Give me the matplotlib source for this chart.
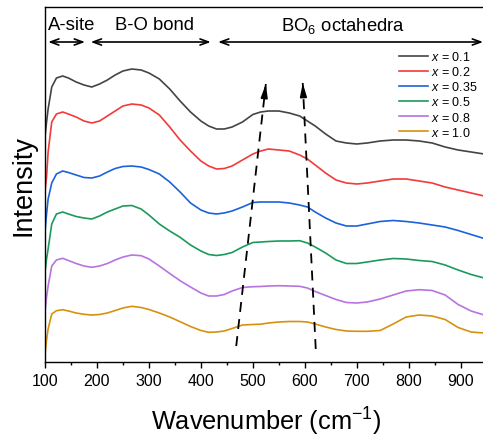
import matplotlib
matplotlib.use("Agg")
import matplotlib.pyplot as plt

plt.rcParams['font.family'] = ['Liberation Sans', 'DejaVu Sans']
plt.rcParams['mathtext.fontset'] = 'custom'
plt.rcParams['mathtext.rm'] = 'Liberation Sans'
plt.rcParams['mathtext.it'] = 'Liberation Sans:italic'

wavenumber = [100, 103, 106, 113, 122, 134, 145, 160, 175, 190, 205, 220, 235, 250,
              267, 285, 300, 320, 340, 360, 380, 400, 415, 430, 445, 460, 480, 500,
              515, 530, 550, 570, 590, 605, 620, 640, 660, 680, 700, 720, 745, 770,
              795, 820, 845, 870, 895, 920, 945]

x01 = [225, 240, 253, 275, 284, 286, 284, 280, 277, 275, 278, 282, 287, 291,
       293, 292, 289, 283, 273, 261, 250, 241, 236, 233, 233, 235, 240, 247.5,
       250, 251, 251, 249, 246, 241, 236, 228, 221, 219, 218, 219, 221, 222,
       222, 221, 219, 215, 212, 210, 208]
x02 = [171, 185, 210, 240, 248, 250, 248, 245, 241, 239, 241, 246, 251, 256,
       258, 257, 254, 247, 235, 222, 211, 201, 196, 193, 193.5, 196, 202, 208,
       211, 213, 212, 211, 207, 203, 197, 189, 182, 179, 178, 179, 181, 183,
       183, 181, 179, 175, 172, 169, 166]
x035 = [130, 148, 163, 179, 188, 191, 189.5, 187, 184.5, 184, 186, 190, 193.5, 195.5,
        196, 195, 192.5, 188, 180, 170, 159, 152, 149, 148, 149, 151, 155, 159.5,
        160, 160, 160, 159, 157, 155, 150, 144, 139, 136, 136, 138, 140.5, 141.5,
        140.5, 139, 137, 135, 131.5, 127.5, 123.5]
x05 = [90, 103, 113, 138, 148, 150, 148, 145.5, 144, 143, 146, 150, 153, 156,
       156.5, 153, 147, 138, 131, 124.7, 117, 111, 107.5, 106.5, 107.5, 109.5, 115, 119.5,
       120, 120.5, 121, 121, 121.3, 119, 115, 109, 102, 98.5, 98.5, 100, 102, 103.5,
       103, 101.5, 100.5, 97, 92, 87.5, 84]
x08 = [50, 65, 76, 96, 102, 103.7, 101.5, 98.5, 96, 94.7, 96, 98.5, 102, 105,
       107, 106.3, 103, 96, 88.5, 81.3, 75, 69, 66, 66, 67.5, 71, 74.5, 75.3,
       75.5, 76, 76.3, 76, 75.7, 74, 70.5, 66.5, 62.5, 59.5, 59, 60, 63, 67,
       71, 72.3, 71.5, 67, 57.5, 51, 47]
x10 = [8, 22, 33, 48, 51.3, 52.3, 51, 49, 47.7, 47, 47.5, 49, 51.5, 54,
       55.7, 54.5, 52.5, 49, 45, 40.3, 35.5, 31.5, 29.7, 30, 31, 33.5, 37, 37.5,
       37.8, 39, 40, 40.5, 40.5, 40, 38, 35, 32.5, 31, 30.7, 30.7, 31.5, 38,
       45, 47, 46, 42.5, 34.5, 30, 29]

series = [x01, x02, x035, x05, x08, x10]
labels = ['0.1', '0.2', '0.35', '0.5', '0.8', '1.0']
colors = ['#444444', '#f23a3a', '#1c62dc', '#1b9a5c', '#b873e0', '#d6920e']

# region annotations (wavenumber ranges)
regions = [(106, 177), (188, 419), (433, 943)]
region_labels = ['A-site', 'B-O bond', 'BO$_6$ octahedra']
region_label_x = [151, 310, 674]

# peak-shift guide arrows: (tail, tip) in data units
shift_arrows = [((468, 16), (525, 278)), ((621, 13), (596, 279))]

fig = plt.figure(figsize=(4.83, 4.39), dpi=100)
ax = fig.add_axes([45/483, 76/439, 441.7/483, 355/439])

for ys, lab, c in zip(series, labels, colors):
    ax.plot(wavenumber, ys, color=c, lw=1.2, label=r'$\it{x}$ = ' + lab)

ax.set_xlim(100, 950)
ax.set_ylim(0, 355)
ax.set_xticks(range(100, 1000, 100))
ax.set_xticks(range(150, 950, 100), minor=True)
ax.set_yticks([])
ax.tick_params(axis='x', which='major', direction='out', length=4, width=1, labelsize=11.5, pad=4)
ax.tick_params(axis='x', which='minor', direction='out', length=2.5, width=1)
for s in ax.spines.values():
    s.set_linewidth(1.0)
ax.set_xlabel('Wavenumber (cm$^{-1}$)', fontsize=18.3, labelpad=12)
ax.set_ylabel('Intensity', fontsize=19.5, labelpad=6)

arrow_y = 320
for (a, b) in regions:
    ax.annotate('', xy=(b, arrow_y), xytext=(a, arrow_y),
                arrowprops=dict(arrowstyle='<->,head_length=0.6,head_width=0.22',
                                lw=1.2, color='k', shrinkA=0, shrinkB=0))
for lx, lt in zip(region_label_x, region_labels):
    ax.text(lx, 337, lt, ha='center', va='center', fontsize=13.3)

for (tail, tip) in shift_arrows:
    ax.plot([tail[0], tip[0]], [tail[1], tip[1]], color='k', lw=1.3,
            linestyle=(0, (5.5, 4)))
    ax.annotate('', xy=tip, xytext=(tip[0] - (tip[0]-tail[0])*0.04, tip[1] - (tip[1]-tail[1])*0.04),
                arrowprops=dict(arrowstyle='-|>,head_length=0.8,head_width=0.2',
                                lw=1.2, color='k', shrinkA=0, shrinkB=0))

ax.legend(loc='upper left', bbox_to_anchor=(399/483, (439-51)/439),
          bbox_transform=fig.transFigure, frameon=False,
          fontsize=9, handlelength=2.3, handletextpad=0.25, labelspacing=0.17,
          borderaxespad=0, borderpad=0)

fig.savefig('out.png', dpi=100)
